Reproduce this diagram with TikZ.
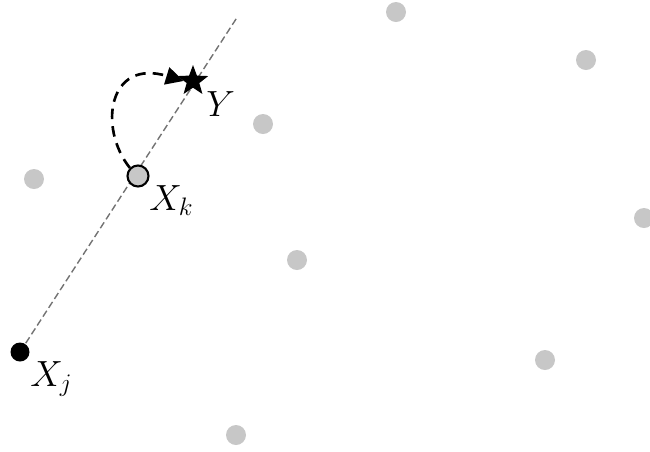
\documentclass[tikz,border=0pt]{standalone}
\usepackage{tikz}
\usetikzlibrary{arrows.meta,shapes.geometric,backgrounds}

\begin{document}
\begin{tikzpicture}[
    x=0.02cm, y=-0.02cm,
    every node/.style={font=\fontsize{21}{24}\selectfont},
    sample/.style={circle, fill=black!22, inner sep=0pt, minimum size=20*0.02cm},
    query/.style={circle, draw=black, line width=1.2pt, fill=black!22, inner sep=0pt, minimum size=21*0.02cm},
    origin/.style={circle, fill=black, inner sep=0pt, minimum size=19*0.02cm},
    target/.style={star, star points=5, star point ratio=2.4, fill=black, inner sep=0pt, minimum size=32*0.02cm},
    guide/.style={dashed, dash pattern=on 4pt off 2pt, black!55, line width=0.8pt},
    jump/.style={dash pattern=on 6pt off 4pt, line width=1.5pt, -{Triangle[length=10pt, width=10pt]}}
]
\useasboundingbox (0,0) rectangle (650,451);

% gray points of the cloud
\node[sample] (p1) at (396,12) {};
\node[sample] (p2) at (586,60) {};
\node[sample] (p3) at (263,124) {};
\node[sample] (p4) at (34,179) {};
\node[sample] (p5) at (644,218) {};
\node[sample] (p6) at (297,260) {};
\node[sample] (p7) at (545,360) {};
\node[sample] (p8) at (236,435) {};

\node[origin] (xj) at (20,352) {};
\node[query] (xk) at (138,176) {};
\node[target] (y) at (193,81) {};
\coordinate (tail) at (238,16);

\node[anchor=north west, inner sep=0pt] (ljx) at (30,361) {$X_j$};
\node[anchor=north west, inner sep=0pt] (lkx) at (149,185) {$X_k$};
\node[anchor=north west, inner sep=0pt] (ly) at (206,91) {$Y$};

\begin{scope}[on background layer]
\draw[guide] (xj.center) -- (tail);
\end{scope}

\draw[jump] (xk.north west) .. controls (98,128) and (108,58) .. (y.west);

\end{tikzpicture}
\end{document}
